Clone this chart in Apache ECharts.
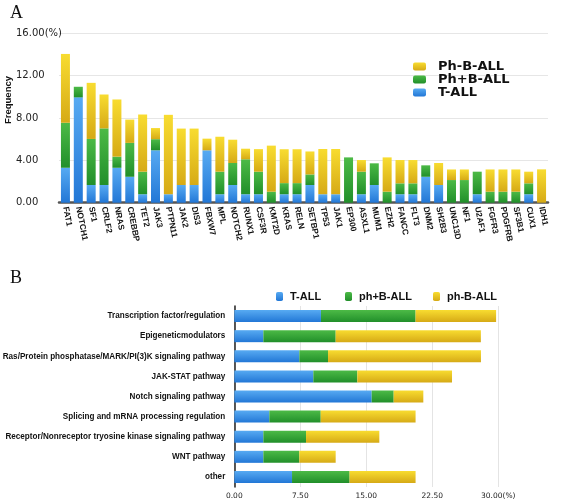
<!DOCTYPE html>
<html><head><meta charset="utf-8">
<script src="https://cdn.jsdelivr.net/npm/echarts@6/dist/echarts.min.js"></script>
<style>html,body{margin:0;padding:0;background:#fff}#c{width:567px;height:502px}</style>
</head><body><div id="c"></div>
<script>
// ---- Panel A data ----
const genes = ["FAT1","NOTCH1","SF1","CRLF2","NRAS","CREBBP","TET2","JAK3","PTPN11","JAK2","DIS3","FBXW7","MPL","NOTCH2","RUNX1","CSF3R","KMT2D","KRAS","RELN","SETBP1","TP53","JAK1","EP300","ASXL1","MUM1","EZH2","FANCC","FLT3","DNM2","SH2B3","UNC13D","NF1","U2AF1","FGFR3","PDGFRB","SF3B1","CUX1","IDH1"];
const geneTALL   = [3.3,9.95,1.67,1.67,3.3,2.45,0.8,4.95,0.8,1.67,1.67,4.95,0.8,1.67,0.8,0.8,0,0.8,0.8,1.67,0.8,0.8,0,0.8,1.67,0,0.8,0.8,2.45,1.67,0,0,0.8,0,0,0,0.8,0];
const genePhPlus = [4.25,1.0,4.35,5.35,1.05,3.2,2.13,1.05,0,0,0,0,2.13,2.08,3.3,2.13,1.04,1.05,1.05,1.0,0,0,4.28,2.13,2.05,1.04,1.03,1.03,1.08,0,2.14,2.14,2.13,1.04,1.04,1.04,1.03,0];
const genePhMinus= [6.5,0,5.3,3.2,5.4,2.2,5.4,1.05,7.5,5.33,5.33,1.1,3.3,2.2,1.0,2.13,4.35,3.2,3.2,2.17,4.27,4.27,0,1.1,0,3.24,2.2,2.2,0,2.08,1.0,1.0,0,2.1,2.1,2.1,1.1,3.15];
const yTicksA = ["0.00","4.00","8.00","12.00","16.00(%)"];

// ---- Panel B data ----
const pathways = ["Transcription factor/regulation","Epigeneticmodulators","Ras/Protein phosphatase/MARK/PI(3)K signaling pathway","JAK-STAT pathway","Notch signaling pathway","Splicing and mRNA processing regulation","Receptor/Nonreceptor tryosine kinase signaling pathway","WNT pathway","other"];
const pathTALL    = [9.85,3.3,7.39,8.98,15.61,3.98,3.3,3.3,6.56];
const pathPhPlus  = [10.75,8.22,3.26,5.0,2.5,5.84,4.85,4.09,6.54];
const pathPhMinus = [9.15,16.5,17.38,10.76,3.37,10.78,8.33,4.13,7.5];
const xTicksB = ["0.00","7.50","15.00","22.50","30.00(%)"];

function grad(c1,c2){return new echarts.graphic.LinearGradient(0,0,0,1,[{offset:0,color:c1},{offset:1,color:c2}]);}
const BLUE = grad('#57aaf2','#2277d6');
const GREEN = grad('#4cba46','#218f2a');
const YELLOW = grad('#f8dc30','#d6aa16');

const sans = '"Liberation Sans",Arial,sans-serif';
const chart = echarts.init(document.getElementById('c'));
chart.setOption({
  animation:false,
  graphic:[
    {type:'text',left:10,top:4,style:{text:'A',font:'18px "Liberation Serif",serif',fill:'#111'}},
    {type:'text',left:10,top:269,style:{text:'B',font:'18px "Liberation Serif",serif',fill:'#111'}},
    {type:'text',x:8,y:100,rotation:Math.PI/2,style:{text:'Frequency',font:'bold 9.5px '+sans,fill:'#111',align:'center',verticalAlign:'middle'}}
  ],
  legend:[
    {orient:'vertical',left:413,top:60,padding:0,itemWidth:13,itemHeight:8,itemGap:0,
     data:['Ph-B-ALL','Ph+B-ALL','T-ALL'],
     textStyle:{fontFamily:'"DejaVu Sans"',fontWeight:'bold',fontSize:13,color:'#111',lineHeight:12.7,padding:[0,0,0,7]}},
    {left:276,top:291,padding:0,itemWidth:7,itemHeight:9,data:['T-ALL '],
     textStyle:{fontFamily:sans,fontWeight:'bold',fontSize:11,color:'#111',padding:[0,0,0,2]}},
    {left:345,top:291,padding:0,itemWidth:7,itemHeight:9,data:['ph+B-ALL'],
     textStyle:{fontFamily:sans,fontWeight:'bold',fontSize:11,color:'#111',padding:[0,0,0,2]}},
    {left:433,top:291,padding:0,itemWidth:7,itemHeight:9,data:['ph-B-ALL'],
     textStyle:{fontFamily:sans,fontWeight:'bold',fontSize:11,color:'#111',padding:[0,0,0,2]}}
  ],
  grid:[
    {left:59,right:19,top:33.3,bottom:299.3,containLabel:false,outerBoundsMode:'none'},
    {left:234.3,right:68.7,top:306,bottom:15,containLabel:false,outerBoundsMode:'none'}
  ],
  xAxis:[
    {gridIndex:0,type:'category',data:genes,
     axisLine:{lineStyle:{color:'#555',width:2.5}},axisTick:{show:false},
     axisLabel:{interval:0,rotate:-79,margin:4,fontFamily:sans,fontWeight:'bold',fontSize:8.4,color:'#111'}},
    {gridIndex:1,type:'value',min:0,max:30,interval:7.5,
     axisLine:{show:false},axisTick:{show:false},
     splitLine:{lineStyle:{color:'#e4e4e4'}},
     axisLabel:{margin:5,fontFamily:'"DejaVu Sans"',fontSize:7.5,color:'#222',
       formatter:(v)=>xTicksB[Math.round(v/7.5)]}}
  ],
  yAxis:[
    {gridIndex:0,type:'value',min:0,max:16,interval:4,
     axisLine:{show:false},axisTick:{show:false},
     splitLine:{lineStyle:{color:'#e6e6e6'}},
     axisLabel:{align:'left',margin:43,fontFamily:'"DejaVu Sans"',fontSize:10,color:'#222',
       formatter:(v)=>yTicksA[Math.round(v/4)]}},
    {gridIndex:1,type:'category',data:pathways,inverse:true,
     axisLine:{lineStyle:{color:'#222',width:1.5}},axisTick:{show:false},
     axisLabel:{margin:9,fontFamily:sans,fontWeight:'bold',fontSize:8.15,color:'#111'}}
  ],
  series:[
    {name:'T-ALL',type:'bar',xAxisIndex:0,yAxisIndex:0,stack:'a',barWidth:9,data:geneTALL,itemStyle:{color:BLUE}},
    {name:'Ph+B-ALL',type:'bar',xAxisIndex:0,yAxisIndex:0,stack:'a',barWidth:9,data:genePhPlus,itemStyle:{color:GREEN}},
    {name:'Ph-B-ALL',type:'bar',xAxisIndex:0,yAxisIndex:0,stack:'a',barWidth:9,data:genePhMinus,itemStyle:{color:YELLOW}},
    {name:'T-ALL ',type:'bar',xAxisIndex:1,yAxisIndex:1,stack:'b',barWidth:12,data:pathTALL,itemStyle:{color:BLUE}},
    {name:'ph+B-ALL',type:'bar',xAxisIndex:1,yAxisIndex:1,stack:'b',barWidth:12,data:pathPhPlus,itemStyle:{color:GREEN}},
    {name:'ph-B-ALL',type:'bar',xAxisIndex:1,yAxisIndex:1,stack:'b',barWidth:12,data:pathPhMinus,itemStyle:{color:YELLOW}}
  ]
});
</script></body></html>
